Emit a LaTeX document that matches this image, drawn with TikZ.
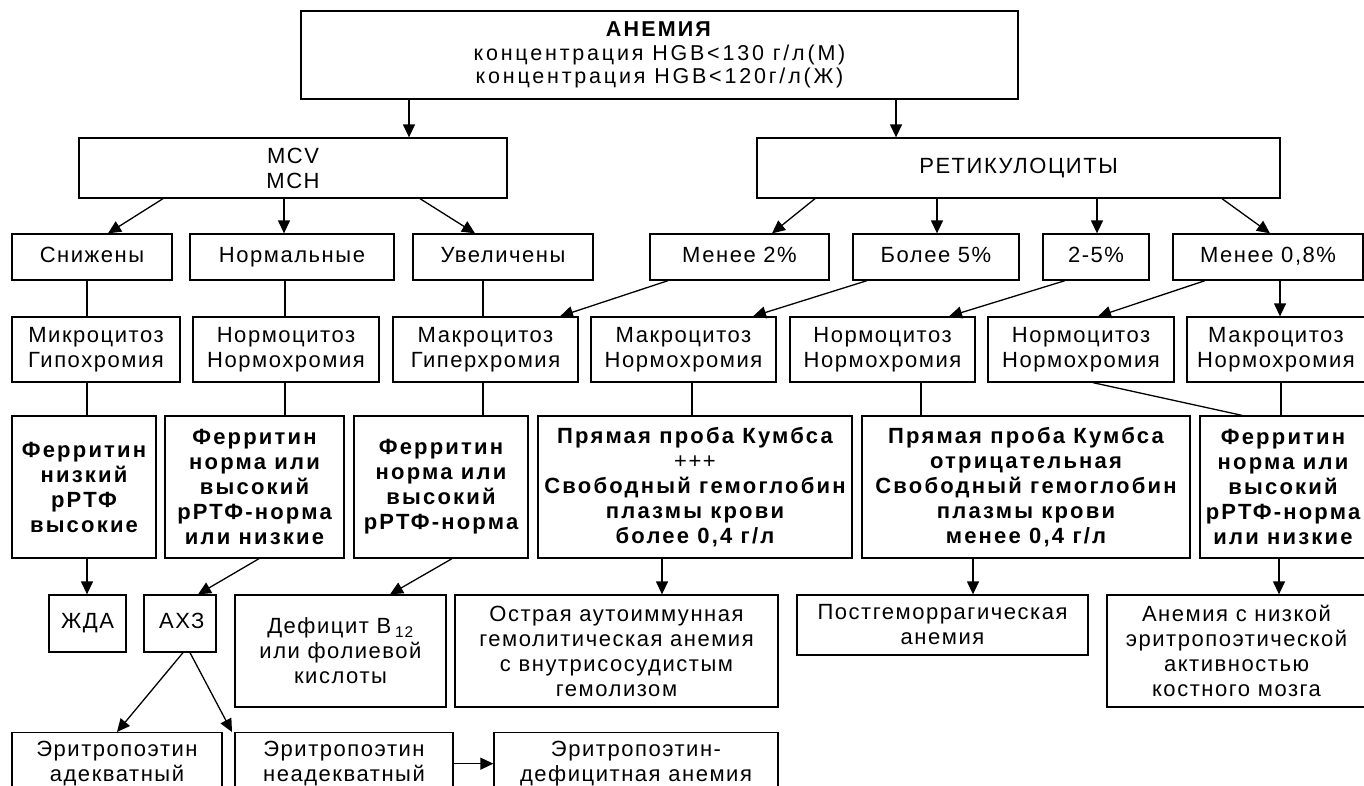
\documentclass[tikz,border=0pt]{standalone}
\usepackage{fontspec}
\setmainfont{Liberation Sans}[LetterSpace=7, BoldFeatures={LetterSpace=10}]
\usetikzlibrary{arrows.meta}
\begin{document}
\begin{tikzpicture}[x=1pt,y=-1pt,
  box/.style={draw, line width=1.3pt, align=center, inner sep=0pt,
    font=\fontsize{22}{25}\selectfont},
  bbox/.style={box, font=\fontsize{22}{25}\selectfont\bfseries},
  ln/.style={line width=1.3pt},
  arr/.style={ln, -{Triangle[length=13pt,width=12pt]}}]
\useasboundingbox (0,0) rectangle (1364,785);
\clip (0,0) rectangle (1364,785);
% top
\node[box, minimum width=717pt, minimum height=88pt, font=\fontsize{21.5}{23.5}\selectfont\addfontfeatures{LetterSpace=13}] (anemia) at (659.5,55)
  {\textbf{АНЕМИЯ}\\концентрация HGB<130 г/л(М)\\концентрация HGB<120г/л(Ж)};
\node[box, minimum width=428pt, minimum height=60pt] (mcv) at (293,168) {MCV\\MCH};
\node[box, minimum width=523pt, minimum height=60pt] (ret) at (1018.5,168) {РЕТИКУЛОЦИТЫ\strut};
% row 3
\node[box, minimum width=160pt, minimum height=46pt] (snizh) at (92,257) {Снижены\strut};
\node[box, minimum width=204pt, minimum height=46pt] (norm) at (292,257) {Нормальные\strut};
\node[box, minimum width=180pt, minimum height=46pt] (uvel) at (503,257) {Увеличены\strut};
\node[box, minimum width=179pt, minimum height=46pt] (m2) at (739.5,257) {Менее 2\%\strut};
\node[box, minimum width=166pt, minimum height=46pt] (b5) at (936,257) {Более 5\%\strut};
\node[box, minimum width=106pt, minimum height=46pt] (r25) at (1096,257) {2-5\%\strut};
\node[box, minimum width=190pt, minimum height=46pt] (m08) at (1268,257) {Менее 0,8\%\strut};
% row 4
\node[box, minimum width=168pt, minimum height=65pt] (mikro) at (96,349.5) {Микроцитоз\\Гипохромия};
\node[box, minimum width=186pt, minimum height=65pt] (normo1) at (286,349.5) {Нормоцитоз\\Нормохромия};
\node[box, minimum width=185pt, minimum height=65pt] (makroG) at (485.5,349.5) {Макроцитоз\\Гиперхромия};
\node[box, minimum width=185pt, minimum height=65pt] (makroN1) at (683.5,349.5) {Макроцитоз\\Нормохромия};
\node[box, minimum width=185pt, minimum height=65pt] (normo2) at (882.5,349.5) {Нормоцитоз\\Нормохромия};
\node[box, minimum width=186pt, minimum height=65pt] (normo3) at (1081,349.5) {Нормоцитоз\\Нормохромия};
\node[box, minimum width=178pt, minimum height=65pt] (makroN2) at (1276,349.5) {Макроцитоз\\Нормохромия};
% row 5
\node[bbox, minimum width=144pt, minimum height=142pt] (f1) at (84,487) {Ферритин\\низкий\\рРТФ\\высокие};
\node[bbox, minimum width=179pt, minimum height=142pt] (f2) at (254.5,487) {Ферритин\\норма или\\высокий\\рРТФ-норма\\или низкие};
\node[bbox, minimum width=174pt, minimum height=142pt] (f3) at (441,487) {Ферритин\\норма или\\высокий\\рРТФ-норма};
\node[bbox, minimum width=314pt, minimum height=142pt] (k1) at (695,487) {Прямая проба Кумбса\\{\mdseries +++}\\Свободный гемоглобин\\плазмы крови\\более 0,4 г/л};
\node[bbox, minimum width=328pt, minimum height=142pt] (k2) at (1026,487) {Прямая проба Кумбса\\отрицательная\\Свободный гемоглобин\\плазмы крови\\менее 0,4 г/л};
\node[bbox, minimum width=166pt, minimum height=142pt] (f4) at (1283,487) {Ферритин\\норма или\\высокий\\рРТФ-норма\\или низкие};
% row 6
\node[box, minimum width=77pt, minimum height=57pt] (zhda) at (87.5,623.5) {ЖДА\strut};
\node[box, minimum width=72pt, minimum height=57pt] (ahz) at (180,623.5) {\,АХЗ\strut};
\node[box, minimum width=211pt, minimum height=112pt] (def) at (340.5,651) {Дефицит B\,\textsubscript{12}\\или фолиевой\\кислоты};
\node[box, minimum width=323pt, minimum height=112pt] (ostr) at (616.5,651) {Острая аутоиммунная\\гемолитическая анемия\\с внутрисосудистым\\гемолизом};
\node[box, minimum width=291pt, minimum height=60pt] (post) at (942.5,625) {Постгеморрагическая\\анемия};
\node[box, minimum width=259pt, minimum height=112pt] (anlow) at (1236.5,651) {Анемия с низкой\\эритропоэтической\\активностью\\костного мозга};
% row 7
\node[box, anchor=north, minimum width=210pt, minimum height=62pt] (epA) at (117,732) {Эритропоэтин\\адекватный};
\node[box, anchor=north, minimum width=218pt, minimum height=62pt] (epN) at (344,732) {Эритропоэтин\\неадекватный};
\node[box, anchor=north, minimum width=284pt, minimum height=62pt] (epD) at (636,732) {Эритропоэтин-\\дефицитная анемия};
% connectors: top
\draw[arr] ([xshift=-250.5pt]anemia.south) -- ([xshift=-250.5pt]anemia.south |- mcv.north);
\draw[arr] ([xshift=236.5pt]anemia.south) -- ([xshift=236.5pt]anemia.south |- ret.north);
% MCV
\draw[arr] ([xshift=-130pt]mcv.south) -- ([xshift=16pt]snizh.north);
\draw[arr] ([xshift=-9pt]mcv.south) -- ([xshift=-9pt]mcv.south |- norm.north);
\draw[arr] ([xshift=127pt]mcv.south) -- ([xshift=-28pt]uvel.north);
% RET
\draw[arr] ([xshift=-203.5pt]ret.south) -- ([xshift=32.5pt]m2.north);
\draw[arr] ([xshift=-81.5pt]ret.south) -- ([xshift=-81.5pt]ret.south |- b5.north);
\draw[arr] ([xshift=78.5pt]ret.south) -- ([xshift=78.5pt]ret.south |- r25.north);
\draw[arr] ([xshift=203.5pt]ret.south) -- ([xshift=2pt]m08.north);
% row 3 -> row 4
\draw[ln] ([xshift=-5pt]snizh.south) -- ([xshift=-5pt]snizh.south |- mikro.north);
\draw[ln] ([xshift=-7pt]norm.south) -- ([xshift=-7pt]norm.south |- normo1.north);
\draw[ln] ([xshift=-20pt]uvel.south) -- ([xshift=-20pt]uvel.south |- makroG.north);
\draw[arr] ([xshift=-71.5pt]m2.south) -- ([xshift=74.5pt]makroG.north);
\draw[arr] ([xshift=-69pt]b5.south) -- ([xshift=69.5pt]makroN1.north);
\draw[arr] ([xshift=-31pt]r25.south) -- ([xshift=66.5pt]normo2.north);
\draw[arr] ([xshift=-63pt]m08.south) -- ([xshift=17pt]normo3.north);
\draw[arr] ([xshift=12pt]m08.south) -- ([xshift=12pt]m08.south |- makroN2.north);
% row 4 -> row 5
\draw[ln] ([xshift=-9pt]mikro.south) -- ([xshift=-9pt]mikro.south |- f1.north);
\draw[ln] ([xshift=-1pt]normo1.south) -- ([xshift=-1pt]normo1.south |- f2.north);
\draw[ln] ([xshift=-2.5pt]makroG.south) -- ([xshift=-2.5pt]makroG.south |- f3.north);
\draw[ln] ([xshift=8.5pt]makroN1.south) -- ([xshift=8.5pt]makroN1.south |- k1.north);
\draw[ln] ([xshift=38.5pt]normo2.south) -- ([xshift=38.5pt]normo2.south |- k2.north);
\draw[ln] ([xshift=12pt]normo3.south) -- ([xshift=-41pt]f4.north);
\draw[ln] ([xshift=5pt]makroN2.south) -- ([xshift=5pt]makroN2.south |- f4.north);
% row 5 -> row 6
\draw[arr] ([xshift=3pt]f1.south) -- ([xshift=3pt]f1.south |- zhda.north);
\draw[arr] ([xshift=4.5pt]f2.south) -- ([xshift=18pt]ahz.north);
\draw[arr] ([xshift=11pt]f3.south) -- ([xshift=49.5pt]def.north);
\draw[arr] ([xshift=-33pt]k1.south) -- ([xshift=-33pt]k1.south |- ostr.north);
\draw[arr] ([xshift=-53pt]k2.south) -- ([xshift=-53pt]k2.south |- post.north);
\draw[arr] ([xshift=-4pt]f4.south) -- ([xshift=-4pt]f4.south |- anlow.north);
% АХЗ
\draw[arr] ([xshift=3pt]ahz.south) -- (epA.north);
\draw[arr] ([xshift=10pt]ahz.south) -- ([xshift=-112pt]epN.north);
\draw[arr] (epN.east) -- (epD.west);
\end{tikzpicture}
\end{document}
